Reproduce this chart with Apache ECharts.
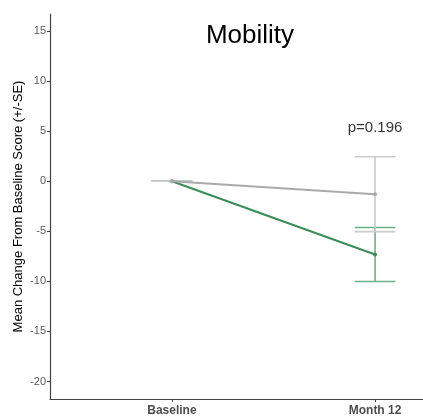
<!DOCTYPE html>
<html>
<head>
<meta charset="utf-8">
<script src="https://cdn.jsdelivr.net/npm/echarts@6/dist/echarts.min.js"></script>
<style>
  html, body { margin: 0; padding: 0; background: #fff; }
  #chart { width: 423px; height: 417px; }
</style>
</head>
<body>
<div id="chart"></div>
<script>
// Visit labels and their positions on the x axis
const visits = ['Baseline', 'Month 12'];
const visitPos = [1, 2];

// Mean change from baseline and standard error, per arm
const greyMean = [0, -1.29];
const greySE = [0, 3.74];
const greenMean = [0, -7.32];
const greenSE = [0, 2.7];

const yTicks = [-20, -15, -10, -5, 0, 5, 10, 15];
const pLabel = 'p=0.196';
const pLabelY = 5.3;

const chart = echarts.init(document.getElementById('chart'));

function pts(means) {
  return visitPos.map((x, i) => [x, means[i]]);
}
function bars(means, ses) {
  return visitPos.map((x, i) => [x, means[i] - ses[i], means[i] + ses[i]]);
}

function errorBar(color) {
  return function (params, api) {
    const x = api.value(0);
    const lo = api.coord([x, api.value(1)]);
    const hi = api.coord([x, api.value(2)]);
    const l = api.coord([x - 0.1, api.value(1)])[0];
    const r = api.coord([x + 0.1, api.value(1)])[0];
    const style = { stroke: color, lineWidth: 1.6 };
    return {
      type: 'group',
      children: [
        { type: 'line', shape: { x1: lo[0], y1: lo[1], x2: hi[0], y2: hi[1] }, style },
        { type: 'line', shape: { x1: l, y1: lo[1], x2: r, y2: lo[1] }, style },
        { type: 'line', shape: { x1: l, y1: hi[1], x2: r, y2: hi[1] }, style }
      ]
    };
  };
}

chart.setOption({
  animation: false,
  backgroundColor: '#ffffff',
  title: {
    text: 'Mobility',
    left: 245,
    top: 18,
    textAlign: 'center',
    textStyle: { fontFamily: 'Liberation Sans', fontSize: 26, fontWeight: 'normal', color: '#000' }
  },
  grid: { left: 50, right: 0, top: 14, bottom: 16, containLabel: false },
  xAxis: {
    type: 'value',
    min: 0.4,
    max: 2.236,
    splitLine: { show: false },
    axisLine: { show: true, onZero: false, lineStyle: { color: '#444', width: 1.2 } },
    axisTick: { show: true, length: 3, customValues: visitPos, lineStyle: { color: '#444' } },
    axisLabel: {
      customValues: visitPos,
      margin: 6,
      formatter: v => visits[visitPos.indexOf(v)] || '',
      fontFamily: 'Liberation Sans', fontSize: 12, fontWeight: 'bold', color: '#4d4d4d'
    }
  },
  yAxis: {
    type: 'value',
    min: -21.75,
    max: 16.7,
    splitLine: { show: false },
    name: 'Mean Change From Baseline Score (+/-SE)',
    nameLocation: 'middle',
    nameGap: 25,
    nameMoveOverlap: false,
    nameTextStyle: { fontFamily: 'Liberation Sans', fontSize: 13, color: '#000' },
    axisLine: { show: true, onZero: false, lineStyle: { color: '#444', width: 1.2 } },
    axisTick: { show: true, length: 3, customValues: yTicks, lineStyle: { color: '#444' } },
    axisLabel: {
      customValues: yTicks,
      margin: 4,
      fontFamily: 'Liberation Sans', fontSize: 11, color: '#5a5a5a'
    }
  },
  series: [
    {
      type: 'custom',
      renderItem: errorBar('#6cb088'),
      data: bars(greenMean, greenSE),
      encode: { x: 0, y: [1, 2] },
      z: 1
    },
    {
      type: 'custom',
      renderItem: errorBar('#cccccc'),
      data: bars(greyMean, greySE),
      encode: { x: 0, y: [1, 2] },
      z: 2
    },
    {
      type: 'line',
      data: pts(greenMean),
      lineStyle: { color: '#3d8c58', width: 2 },
      itemStyle: { color: '#3d8c58' },
      symbol: 'circle',
      symbolSize: 4,
      z: 3
    },
    {
      type: 'line',
      data: pts(greyMean),
      lineStyle: { color: '#aaaaaa', width: 2 },
      itemStyle: { color: '#aaaaaa' },
      symbol: 'circle',
      symbolSize: 4,
      z: 4
    },
    {
      type: 'scatter',
      symbolSize: 0,
      data: [[visitPos[1], pLabelY]],
      label: {
        show: true,
        position: 'inside',
        formatter: pLabel,
        fontFamily: 'Liberation Sans', fontSize: 15, color: '#000'
      },
      z: 5
    }
  ]
});
</script>
</body>
</html>
